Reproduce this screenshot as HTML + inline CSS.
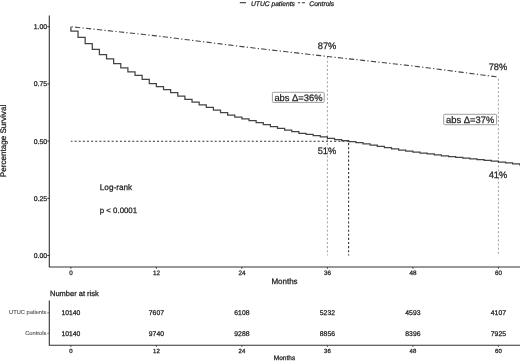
<!DOCTYPE html>
<html><head><meta charset="utf-8"><style>
html,body{margin:0;padding:0;background:#fff;width:520px;height:361px;overflow:hidden}
text{stroke:#222;stroke-width:0.25px}
.g5 text{stroke:#555;stroke-width:0.12px}
</style></head><body>
<svg width="520" height="361" viewBox="0 0 520 361" style="display:block;filter:blur(0.4px)">
<rect width="520" height="361" fill="#fff"/>
<g font-family='"Liberation Sans", sans-serif' fill="#1a1a1a" text-rendering="geometricPrecision">
<!-- legend -->
<line x1="239.8" y1="2.7" x2="246" y2="2.7" stroke="#333" stroke-width="1.1"/>
<text x="251" y="5.9" font-size="6.7" font-style="italic">UTUC patients</text>
<path d="M297.9,2.7H300.1M301.9,2.7H304.9" stroke="#333" stroke-width="1.1"/>
<text x="309.3" y="5.9" font-size="6.7" font-style="italic">Controls</text>

<!-- y axis label -->
<text transform="translate(6.4,141) rotate(-90)" font-size="8.1" text-anchor="middle">Percentage Survival</text>

<!-- y ticks -->
<g font-size="6.9" text-anchor="end" fill="#222">
<text x="47.2" y="29.2">1.00</text>
<text x="47.2" y="86.4">0.75</text>
<text x="47.2" y="143.6">0.50</text>
<text x="47.2" y="200.8">0.25</text>
<text x="47.2" y="258.0">0.00</text>
</g>
<g stroke="#333" stroke-width="1">
<line x1="47.3" y1="26.70" x2="49.3" y2="26.70"/>
<line x1="47.3" y1="83.90" x2="49.3" y2="83.90"/>
<line x1="47.3" y1="141.10" x2="49.3" y2="141.10"/>
<line x1="47.3" y1="198.30" x2="49.3" y2="198.30"/>
<line x1="47.3" y1="255.50" x2="49.3" y2="255.50"/>
</g>
<!-- axes -->
<path d="M49.3,15.5V267H520" fill="none" stroke="#333" stroke-width="1.1"/>
<!-- x ticks -->
<g stroke="#222" stroke-width="0.8">
<line x1="70.90" y1="267" x2="70.90" y2="268.8"/>
<line x1="156.40" y1="267" x2="156.40" y2="268.8"/>
<line x1="241.90" y1="267" x2="241.90" y2="268.8"/>
<line x1="327.40" y1="267" x2="327.40" y2="268.8"/>
<line x1="412.90" y1="267" x2="412.90" y2="268.8"/>
<line x1="498.40" y1="267" x2="498.40" y2="268.8"/>
</g>
<g font-size="6.3" text-anchor="middle" fill="#222">
<text x="70.90" y="274.5">0</text>
<text x="156.40" y="274.5">12</text>
<text x="241.90" y="274.5">24</text>
<text x="327.40" y="274.5">36</text>
<text x="412.90" y="274.5">48</text>
<text x="498.40" y="274.5">60</text>
</g>
<text x="284.5" y="283.5" font-size="8.0" text-anchor="middle">Months</text>
<g fill="none" stroke-dasharray="2.06 2.06">
<line x1="327.40" y1="56.2" x2="327.40" y2="255.50" stroke="#8a8a8a" stroke-width="0.8" stroke-dashoffset="3.73"/>
<line x1="498.40" y1="77.0" x2="498.40" y2="255.50" stroke="#8a8a8a" stroke-width="0.8" stroke-dashoffset="2.41"/>
<line x1="70.90" y1="141.3" x2="348.6" y2="141.3" stroke="#333" stroke-width="1.1" stroke-dashoffset="0.43"/>
<line x1="348.6" y1="141.3" x2="348.6" y2="255.50" stroke="#333" stroke-width="1.1" stroke-dashoffset="2.31"/>
</g>
<path d="M70.90,26.70V31.20H78.03V37.30H85.15V43.70H92.28V49.40H99.40V54.60H106.53V58.90H113.65V63.50H120.78V67.90H127.90V71.90H135.03V75.40H142.15V79.40H149.28V83.50H156.40V86.60H163.53V89.50H170.65V92.70H177.78V96.20H184.90V99.30H192.03V102.20H199.15V104.80H206.28V107.40H213.40V110.10H220.53V112.70H227.65V115.00H234.78V117.10H241.90V118.80H249.03V120.50H256.15V122.50H263.27V124.70H270.40V126.50H277.52V128.30H284.65V130.00H291.77V131.70H298.90V133.30H306.02V134.30H313.15V135.50H320.27V136.80H327.40V138.30H334.52V139.50H341.65V140.50H348.77V141.50H355.90V142.50H363.02V143.77H370.15V145.03H377.27V146.30H384.40V147.60H391.52V148.90H398.65V150.20H405.77V151.13H412.90V152.07H420.02V153.00H427.15V153.93H434.27V154.87H441.40V155.80H448.52V156.58H455.65V157.35H462.77V158.12H469.90V158.90H477.02V159.68H484.15V160.45H491.27V161.22H498.40V162.00H505.52V162.93H512.65V163.87H519.77V164.80H521" fill="none" stroke="#444" stroke-width="1.25"/>
<path d="M70.90,26.70L78.03,27.46L85.15,28.22L92.28,28.97L99.40,29.73L106.53,30.49L113.65,31.25L120.78,32.01L127.90,32.76L135.03,33.54L142.15,34.31L149.28,35.08L156.40,35.85L163.53,36.75L170.65,37.64L177.78,38.54L184.90,39.44L192.03,40.33L199.15,41.23L206.28,42.12L213.40,43.02L220.53,43.92L227.65,44.81L234.78,45.71L241.90,46.61L249.03,47.43L256.15,48.25L263.27,49.07L270.40,49.89L277.52,50.70L284.65,51.52L291.77,52.34L298.90,53.16L306.02,53.98L313.15,54.80L320.27,55.62L327.40,56.44L334.52,57.24L341.65,58.03L348.77,58.82L355.90,59.61L363.02,60.40L370.15,61.19L377.27,61.98L384.40,62.77L391.52,63.57L398.65,64.36L405.77,65.15L412.90,65.94L420.02,66.86L427.15,67.79L434.27,68.71L441.40,69.64L448.52,70.56L455.65,71.49L462.77,72.41L469.90,73.34L477.02,74.26L484.15,75.19L491.27,76.11L498.40,77.04" fill="none" stroke="#444" stroke-width="1.1" stroke-dasharray="1.3 2.25 5.25 2.23" stroke-dashoffset="10.45"/>
<g font-size="9.3" text-anchor="middle" fill="#222">
<text x="327.1" y="48.8">87%</text>
<text x="498" y="70">78%</text>
<text x="327" y="153.7">51%</text>
<text x="498" y="177.7">41%</text>
</g>
<rect x="272.4" y="92.3" width="51.8" height="10.1" rx="0.8" fill="#fff" stroke="#9a9a9a" stroke-width="0.95"/>
<text x="298.5" y="101.2" font-size="9.4" text-anchor="middle" fill="#222">abs &#916;=36%</text>
<rect x="443.7" y="114.3" width="52.9" height="10.4" rx="0.8" fill="#fff" stroke="#9a9a9a" stroke-width="0.95"/>
<text x="470.2" y="123.3" font-size="9.4" text-anchor="middle" fill="#222">abs &#916;=37%</text>
<text x="99.8" y="190.0" font-size="8.2" fill="#222">Log-rank</text>
<text x="99.8" y="213.2" font-size="7.85" fill="#222">p &lt; 0.0001</text>
<text x="50" y="295.8" font-size="7.5" fill="#111">Number at risk</text>
<path d="M49.3,300.5V345.3H520" fill="none" stroke="#333" stroke-width="1.1"/>
<g stroke="#444" stroke-width="0.7"><line x1="47.3" y1="312.8" x2="49.3" y2="312.8"/><line x1="47.3" y1="333.3" x2="49.3" y2="333.3"/></g>
<g class="g5" font-size="5.7" text-anchor="end" fill="#555"><text x="46.4" y="314.4">UTUC patients</text><text x="46.4" y="334.9">Controls</text></g>
<g font-size="6.8" text-anchor="middle" fill="#222">
<text x="70.90" y="315.1">10140</text><text x="70.90" y="335.6">10140</text>
<text x="156.40" y="315.1">7607</text><text x="156.40" y="335.6">9740</text>
<text x="241.90" y="315.1">6108</text><text x="241.90" y="335.6">9288</text>
<text x="327.40" y="315.1">5232</text><text x="327.40" y="335.6">8856</text>
<text x="412.90" y="315.1">4593</text><text x="412.90" y="335.6">8396</text>
<text x="498.40" y="315.1">4107</text><text x="498.40" y="335.6">7925</text>
</g>
<g stroke="#222" stroke-width="0.7">
<line x1="70.90" y1="345.3" x2="70.90" y2="347"/>
<line x1="156.40" y1="345.3" x2="156.40" y2="347"/>
<line x1="241.90" y1="345.3" x2="241.90" y2="347"/>
<line x1="327.40" y1="345.3" x2="327.40" y2="347"/>
<line x1="412.90" y1="345.3" x2="412.90" y2="347"/>
<line x1="498.40" y1="345.3" x2="498.40" y2="347"/>
</g>
<g font-size="6" text-anchor="middle" fill="#222">
<text x="70.90" y="352.8">0</text>
<text x="156.40" y="352.8">12</text>
<text x="241.90" y="352.8">24</text>
<text x="327.40" y="352.8">36</text>
<text x="412.90" y="352.8">48</text>
<text x="498.40" y="352.8">60</text>
</g>
<text x="284.5" y="359.8" font-size="6.5" text-anchor="middle" fill="#111">Months</text>
</g></svg>
</body></html>
